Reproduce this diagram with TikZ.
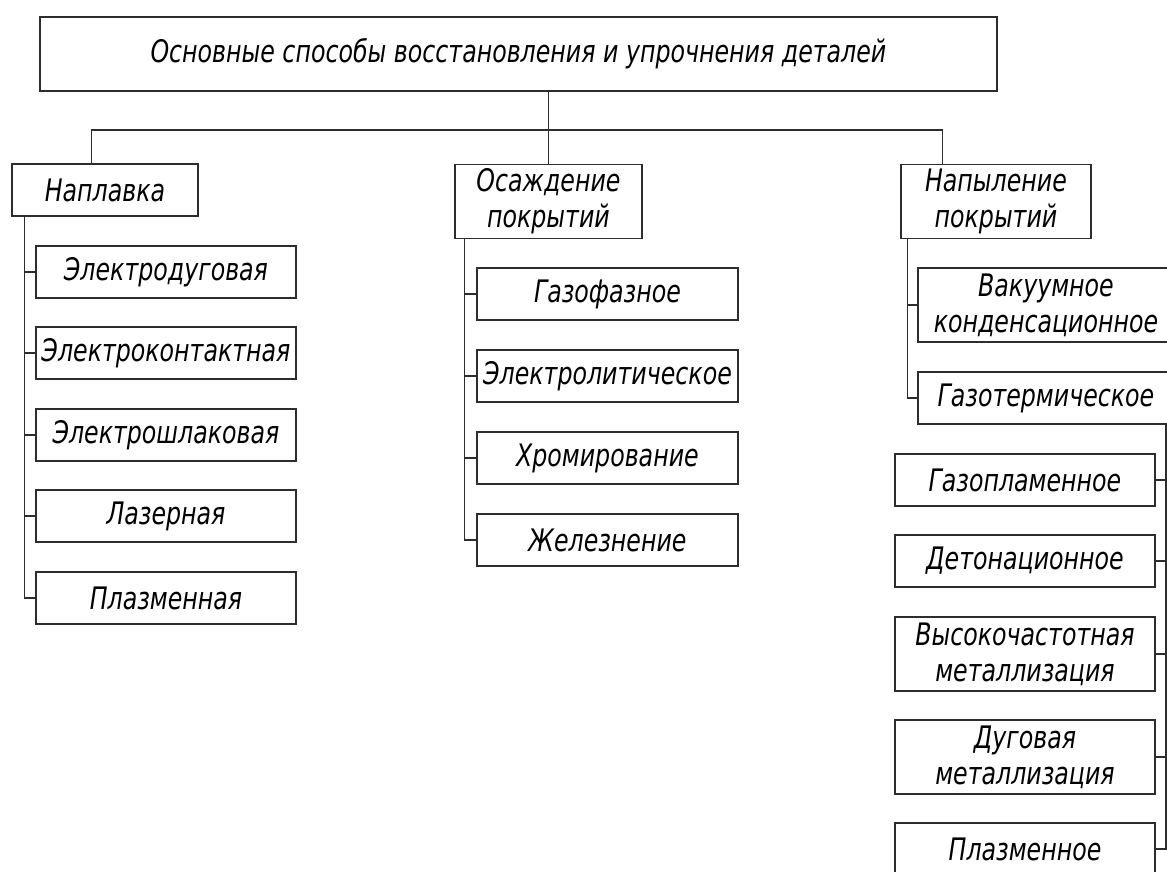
\documentclass[tikz,border=0pt]{standalone}
\usepackage{fontspec}
\newfontfamily\gost{DejaVu Sans Condensed Oblique}[FakeStretch=0.85]
\usepackage{tikz}
\usetikzlibrary{positioning, calc}
\usepackage{xcolor}
\definecolor{ink}{RGB}{45,45,45}

\begin{document}
\begin{tikzpicture}[x=0.5pt, y=-0.5pt, color=ink, line width=0.7pt,
    box/.style={draw=ink, line width=0.8pt, rectangle, inner sep=0pt, align=center,
      font=\gost\fontsize{15.5}{18}\selectfont, text=black},
    one/.style={box, minimum height=26pt},
    two/.style={box, minimum height=37pt}]
  \useasboundingbox (0,0) rectangle (1167,872);
  % title
  \node[box, minimum width=478.5pt, minimum height=37pt, font=\gost\fontsize{15.5}{18}\selectfont]
    (top) at (518.5,54) {Основные способы восстановления и упрочнения деталей};
  % second level
  \node[one, minimum width=93pt] (napl) at (105,190) {Наплавка};
  \node[two, minimum width=93.5pt] (osazh) at (548.5,201.5) {Осаждение\\покрытий};
  \node[two, minimum width=95pt] (napyl) at (996,201.5) {Напыление\\покрытий};
  \coordinate (bus) at (547,130);
  \draw (osazh.north |- top.south) -- (osazh.north);
  \draw ($(napl.north west)+(80,0)$) |- (bus) -| ($(napyl.north west)+(42,0)$);
  % Наплавка
  \node[one, minimum width=130pt] (edug) at (166,272) {Электродуговая};
  \node[one, minimum width=130pt] (ekont) at (166,353) {Электроконтактная};
  \node[one, minimum width=130pt] (eshl) at (166,435) {Электрошлаковая};
  \node[one, minimum width=130pt] (laz) at (166,516) {Лазерная};
  \node[one, minimum width=130pt] (plazma) at (166,598) {Плазменная};
  \coordinate (trunkA) at ($(napl.south west)+(13,0)$);
  \draw (trunkA) |- (plazma.west);
  \foreach \n in {edug,ekont,eshl,laz}
    \draw (\n.west) -- (\n.west -| trunkA);
  % Осаждение
  \node[one, minimum width=130.5pt] (gazof) at (607.5,294) {Газофазное};
  \node[one, minimum width=130.5pt] (elit) at (607.5,376) {Электролитическое};
  \node[one, minimum width=130.5pt] (hrom) at (607.5,458) {Хромирование};
  \node[one, minimum width=130.5pt] (zhel) at (607.5,540) {Железнение};
  \coordinate (trunkB) at ($(osazh.south west)+(10,0)$);
  \draw (trunkB) |- (zhel.west);
  \foreach \n in {gazof,elit,hrom}
    \draw (\n.west) -- (\n.west -| trunkB);
  % Напыление
  \node[two, minimum width=128pt] (vak) at (1046,305) {Вакуумное\\конденсационное};
  \node[one, minimum width=128pt] (gterm) at (1046,398) {Газотермическое};
  \coordinate (trunkC) at ($(napyl.south west)+(7,0)$);
  \draw (trunkC) |- (gterm.west);
  \draw (vak.west) -- (vak.west -| trunkC);
  % Газотермическое
  \node[one, minimum width=130pt] (gplam) at (1025,480) {Газопламенное};
  \node[one, minimum width=130pt] (deton) at (1025,561) {Детонационное};
  \node[two, minimum width=130pt] (vchm) at (1025,654) {Высокочастотная\\металлизация};
  \node[two, minimum width=130pt] (dugm) at (1025,757) {Дуговая\\металлизация};
  \node[one, minimum width=130pt] (plazm) at (1025,849) {Плазменное};
  \coordinate (trunkD) at (1166,424);
  \draw (trunkD) |- (plazm.east);
  \foreach \n in {gplam,deton,vchm,dugm}
    \draw (\n.east) -- (\n.east -| trunkD);
\end{tikzpicture}
\end{document}
